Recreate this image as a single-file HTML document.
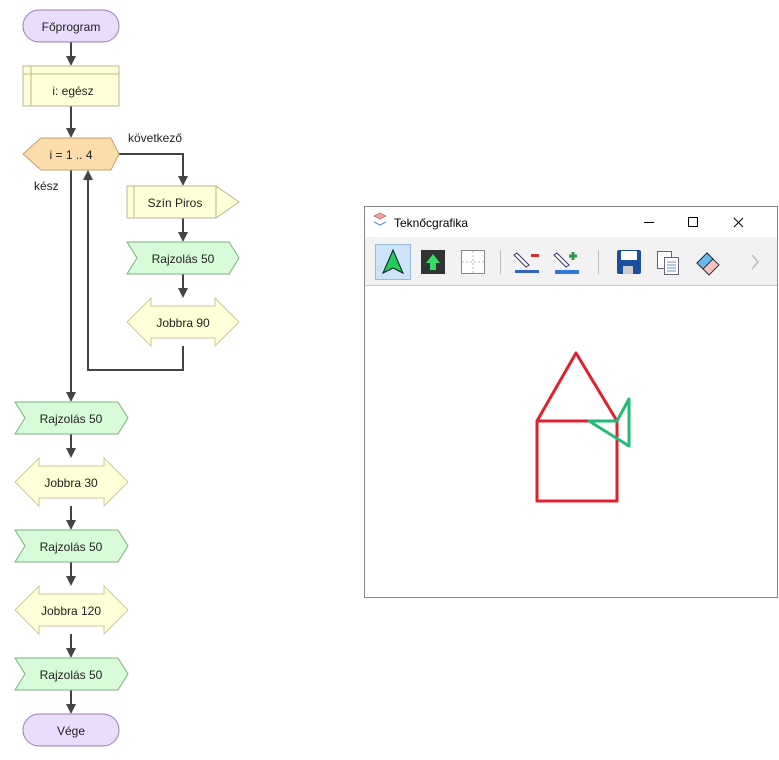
<!DOCTYPE html>
<html><head><meta charset="utf-8"><style>
body{margin:0;width:779px;height:755px;background:#fff;overflow:hidden;font-family:"Liberation Sans",sans-serif}
svg text{font-family:"Liberation Sans",sans-serif;font-size:12px;fill:#222}
</style></head><body>
<svg width="779" height="755" viewBox="0 0 779 755" xmlns="http://www.w3.org/2000/svg">
<g stroke="#444" stroke-width="2" fill="none">
<path d="M71,42V58"/>
<path d="M71,106V130"/>
<path d="M119,154H183V178"/>
<path d="M183,218V234"/>
<path d="M183,274V290"/>
<path d="M183,346V370H88V178"/>
<path d="M71,170V394"/>
<path d="M71,434V450"/>
<path d="M71,506V522"/>
<path d="M71,562V578"/>
<path d="M71,634V650"/>
<path d="M71,690V706"/>
</g>
<g fill="#444">
<path d="M66,56H76L71,66z"/>
<path d="M66,128H76L71,138z"/>
<path d="M178,176H188L183,186z"/>
<path d="M178,232H188L183,242z"/>
<path d="M178,288H188L183,298z"/>
<path d="M83,180H93L88,170z"/>
<path d="M66,392H76L71,402z"/>
<path d="M66,448H76L71,458z"/>
<path d="M66,520H76L71,530z"/>
<path d="M66,576H76L71,586z"/>
<path d="M66,648H76L71,658z"/>
<path d="M66,704H76L71,714z"/>
</g>
<rect x="23" y="10" width="96" height="32" rx="16" fill="#eadcfb" stroke="#9c7bb8"/>
<text x="71" y="31" text-anchor="middle">Főprogram</text>
<rect x="23" y="66" width="96" height="40" fill="#ffffd8" stroke="#b8b890"/>
<path d="M31,66V106M23,74H119" stroke="#b8b890" fill="none"/>
<text x="73" y="95" text-anchor="middle">i: egész</text>
<path d="M23,154L41,138H111L119,154L111,170H41z" fill="#fddcac" stroke="#c8a070"/>
<text x="71" y="159" text-anchor="middle">i = 1 .. 4</text>
<text x="128" y="142">következő</text>
<text x="34" y="190">kész</text>
<path d="M127,186H216L239,202L216,218H127z" fill="#ffffd8" stroke="#b8b890"/>
<path d="M134,186V218M216,186V218" stroke="#b8b890"/>
<text x="175" y="207" text-anchor="middle">Szín Piros</text>
<g fill="#d8fcd8" stroke="#80b080">
<path d="M127,242H229L239,258L229,274H127L137,258z"/>
<path d="M15,402H118L128,418L118,434H15L25,418z"/>
<path d="M15,530H118L128,546L118,562H15L25,546z"/>
<path d="M15,658H118L128,674L118,690H15L25,674z"/>
</g>
<g fill="#ffffd8" stroke="#c8c8a0">
<path d="M127,322L151,298V306H215V298L239,322L215,346V338H151V346z"/>
<path d="M15,482L39,458V466H104V458L128,482L104,506V498H39V506z"/>
<path d="M15,610L39,586V594H104V586L128,610L104,634V626H39V634z"/>
</g>
<text x="183" y="263" text-anchor="middle">Rajzolás 50</text>
<text x="183" y="327" text-anchor="middle">Jobbra 90</text>
<text x="71" y="423" text-anchor="middle">Rajzolás 50</text>
<text x="71" y="487" text-anchor="middle">Jobbra 30</text>
<text x="71" y="551" text-anchor="middle">Rajzolás 50</text>
<text x="71" y="615" text-anchor="middle">Jobbra 120</text>
<text x="71" y="679" text-anchor="middle">Rajzolás 50</text>
<rect x="23" y="714" width="96" height="32" rx="16" fill="#eadcfb" stroke="#9c7bb8"/>
<text x="71" y="735" text-anchor="middle">Vége</text>

<rect x="364.5" y="206.5" width="413" height="391" fill="#fff" stroke="#888"/>
<rect x="365" y="207" width="412" height="30" fill="#fff"/>
<rect x="365" y="237" width="412" height="48" fill="#f2f2f2"/>
<path d="M365,285.5H777" stroke="#c8c8c8"/>
<path d="M374,216l6,-3l6,3l-6,3z" fill="#f4a0a0" stroke="#c06060" stroke-width="0.7"/>
<path d="M374,222l6,3l6,-3" fill="none" stroke="#6090d0" stroke-width="1.2"/>
<text x="394" y="227" style="font-size:12px;fill:#000">Teknőcgrafika</text>
<path d="M644,222.5H654" stroke="#000"/>
<rect x="688.5" y="217.5" width="9" height="9" fill="none" stroke="#000"/>
<path d="M734,218l9,9M743,218l-9,9" stroke="#000"/>
<rect x="375.5" y="244.5" width="35" height="35" fill="#cce4f7" stroke="#99bbdd"/>
<path d="M393,250L403,273L393,268L383,273z" fill="#22cc55" stroke="#113"/>
<rect x="421" y="250" width="24" height="24" fill="#333"/>
<path d="M433,254L440,263H436V270H430V263H426z" fill="#33dd66"/>
<rect x="461.5" y="250.5" width="23" height="23" fill="#fff" stroke="#888"/>
<path d="M473,251V273M462,262H484" stroke="#bbb" stroke-dasharray="2 2"/>
<path d="M500.5,250V274M598.5,250V274" stroke="#bbb"/>
<rect x="515" y="270" width="24" height="3" fill="#3366bb"/>
<path d="M517,253l12,12l-3,2l-12,-12z" fill="#fff" stroke="#336"/>
<rect x="531" y="254" width="8" height="3" fill="#d03030"/>
<rect x="555" y="270" width="24" height="4" fill="#3377dd"/>
<path d="M557,253l12,12l-3,2l-12,-12z" fill="#fff" stroke="#336"/>
<path d="M573,252v8M569,256h8" stroke="#2a9a4a" stroke-width="3"/>
<rect x="617" y="250" width="24" height="24" rx="2" fill="#1a4fa0"/>
<rect x="621" y="251" width="16" height="9" fill="#fff"/>
<rect x="623" y="266" width="10" height="8" fill="#ccc"/>
<rect x="657.5" y="251.5" width="14" height="17" fill="#fff" stroke="#667"/>
<rect x="664.5" y="257.5" width="14" height="17" fill="#fff" stroke="#667"/>
<path d="M667,262h9M667,265h9M667,268h9M667,271h9" stroke="#6690cc"/>
<path d="M697,263l10,-10l12,12l-10,10z" fill="#f8c0c0" stroke="#333"/>
<path d="M697,263l10,-10l6,6l-10,10z" fill="#66bbee" stroke="#333"/>
<path d="M752,255l6,7l-6,7" fill="none" stroke="#bbb" stroke-width="1.5"/>
<g fill="none" stroke-width="3" stroke-linejoin="round">
<path d="M537,421H617V501H537zM537,421L576,353L617,421" stroke="#e0202e"/>
<path d="M589,421H617L629,399V446z" stroke="#22bb77"/>
</g>
</svg>
</body></html>
